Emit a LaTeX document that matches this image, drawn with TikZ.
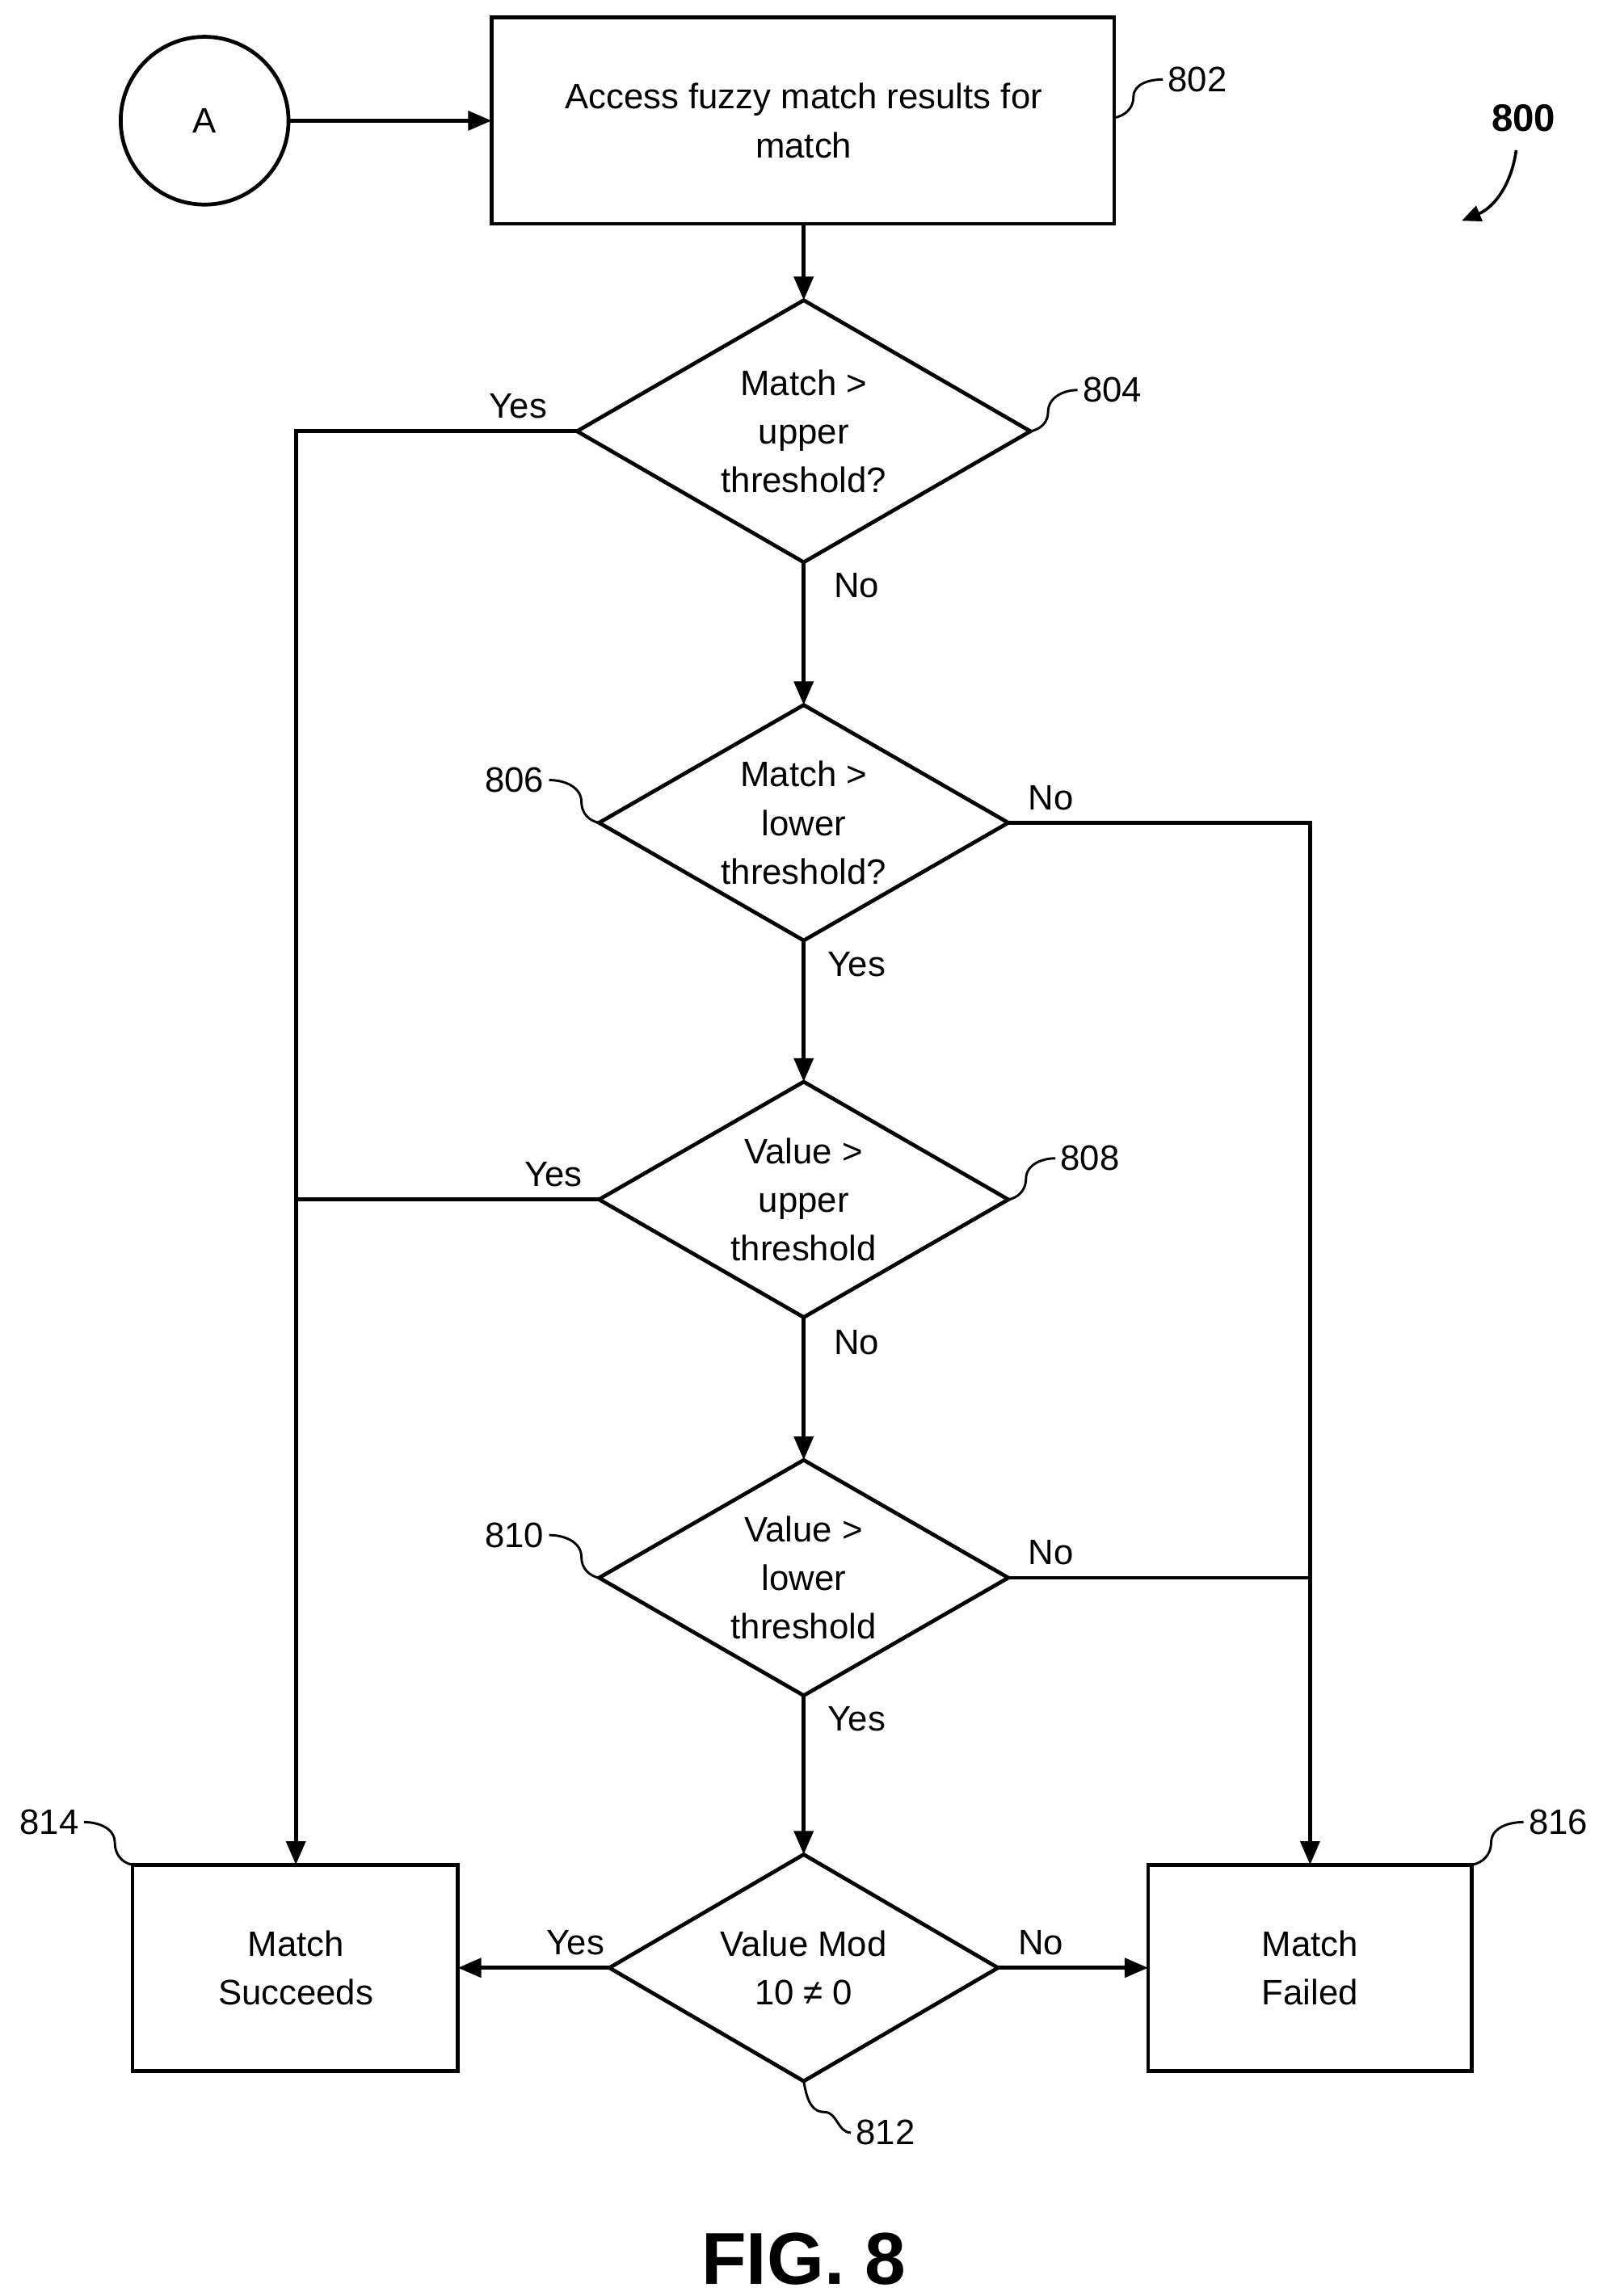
\documentclass[tikz,border=0pt]{standalone}
\usepackage{fontspec}
\setmainfont{Liberation Sans}
\usetikzlibrary{arrows.meta}
\begin{document}
\begin{tikzpicture}[x=1pt,y=-1pt,
  ln/.style={line width=2.6pt},
  arr/.style={ln,-{Triangle[length=16pt,width=13pt]}},
  box/.style={draw,line width=2.6pt},
  txt/.style={font=\fontsize{24}{33}\selectfont,align=center},
  lbl/.style={font=\fontsize{24}{28}\selectfont},
  sq/.style={line width=1.6pt}]
\useasboundingbox (0,0) rectangle (1086,1560);
% circle A
\node[draw,circle,line width=2.6pt,minimum size=114pt,txt] (A) at (139,82) {A};
% box 802
\draw[box] (334,12) rectangle (757,152);
\node[txt] (b802) at (546,82) {Access fuzzy match results for\\match};
\coordinate (b802t) at (334,82);
\coordinate (b802b) at (546,152);
% diamonds
\newcommand{\dia}[6]{% name, cx, cy, hw, hh, text
  \draw[ln] (#2-#4,#3) -- (#2,#3-#5) -- (#2+#4,#3) -- (#2,#3+#5) -- cycle;
  \node[txt] (#1) at (#2,#3) {#6};
  \coordinate (#1L) at (#2-#4,#3); \coordinate (#1R) at (#2+#4,#3);
  \coordinate (#1T) at (#2,#3-#5); \coordinate (#1B) at (#2,#3+#5);}
\dia{d804}{546}{293}{154}{89}{Match >\\upper\\threshold?}
\dia{d806}{546}{559}{139}{80}{Match >\\lower\\threshold?}
\dia{d808}{546}{815}{139}{80}{Value >\\upper\\threshold}
\dia{d810}{546}{1072}{139}{80}{Value >\\lower\\threshold}
\dia{d812}{546}{1337}{132}{77}{Value Mod\\10 ≠ 0}
% boxes 814/816
\draw[box] (90,1267) rectangle (311,1407);
\node[txt] (b814) at (201,1337) {Match\\Succeeds};
\draw[box] (780,1267) rectangle (1000,1407);
\node[txt] (b816) at (890,1337) {Match\\Failed};
\coordinate (b814T) at (201,1267); \coordinate (b814R) at (311,1337);
\coordinate (b816T) at (890,1267); \coordinate (b816L) at (780,1337);
\coordinate (cL1) at (201,293); \coordinate (cL2) at (201,815);
\coordinate (cR1) at (890,559); \coordinate (cR2) at (890,1072);
% connectors
\draw[arr] (A) -- (b802t);
\draw[arr] (b802b) -- (d804T);
\draw[arr] (d804B) -- (d806T);
\draw[arr] (d806B) -- (d808T);
\draw[arr] (d808B) -- (d810T);
\draw[arr] (d810B) -- (d812T);
\draw[arr] (d804L) -- (cL1) -- (b814T);
\draw[ln] (d808L) -- (cL2);
\draw[arr] (d806R) -- (cR1) -- (b816T);
\draw[ln] (d810R) -- (cR2);
\draw[arr] (d812L) -- (b814R);
\draw[arr] (d812R) -- (b816L);
% labels
\node[lbl] at (352,276) {Yes};
\node[lbl] at (582,398) {No};
\node[lbl] at (714,542) {No};
\node[lbl] at (582,655) {Yes};
\node[lbl] at (376,798) {Yes};
\node[lbl] at (582,912) {No};
\node[lbl] at (714,1055) {No};
\node[lbl] at (582,1168) {Yes};
\node[lbl] at (391,1320) {Yes};
\node[lbl] at (707,1320) {No};
% reference numerals
\node[lbl,anchor=west] (n802) at (790,54) {802};
\draw[sq] (757,80) to[out=10,in=-90] (770,66) to[out=90,in=180] (790,54);
\node[lbl,anchor=west] (n804) at (732,265) {804};
\draw[sq] (700,293) to[out=10,in=-90] (712,280) to[out=90,in=180] (732,265);
\node[lbl,anchor=east] (n806) at (373,530) {806};
\draw[sq] (407,559) to[out=170,in=-90] (395,545) to[out=90,in=0] (373,530);
\node[lbl,anchor=west] (n808) at (717,787) {808};
\draw[sq] (685,815) to[out=10,in=-90] (697,801) to[out=90,in=180] (717,787);
\node[lbl,anchor=east] (n810) at (373,1043) {810};
\draw[sq] (407,1072) to[out=170,in=-90] (395,1058) to[out=90,in=0] (373,1043);
\node[lbl,anchor=east] (n814) at (57,1238) {814};
\draw[sq] (90,1267) to[out=170,in=-90] (78,1252) to[out=90,in=0] (57,1238);
\node[lbl,anchor=west] (n816) at (1035,1238) {816};
\draw[sq] (1000,1267) to[out=10,in=-90] (1013,1252) to[out=90,in=180] (1035,1238);
\node[lbl,anchor=west] (n812) at (578,1449) {812};
\draw[sq] (546,1414) to[out=-80,in=180] (560,1435) to[out=0,in=180] (578,1449);
% figure number
\node[lbl,font=\fontsize{26}{30}\selectfont\bfseries] (n800) at (1035,80) {800};
\draw[line width=2pt,-{Triangle[length=13pt,width=11pt]}] (1030,102) to[bend left=30] (993,150);
\node[font=\fontsize{50}{56}\selectfont\bfseries] (fig) at (546,1535) {FIG. 8};
\end{tikzpicture}
\end{document}
